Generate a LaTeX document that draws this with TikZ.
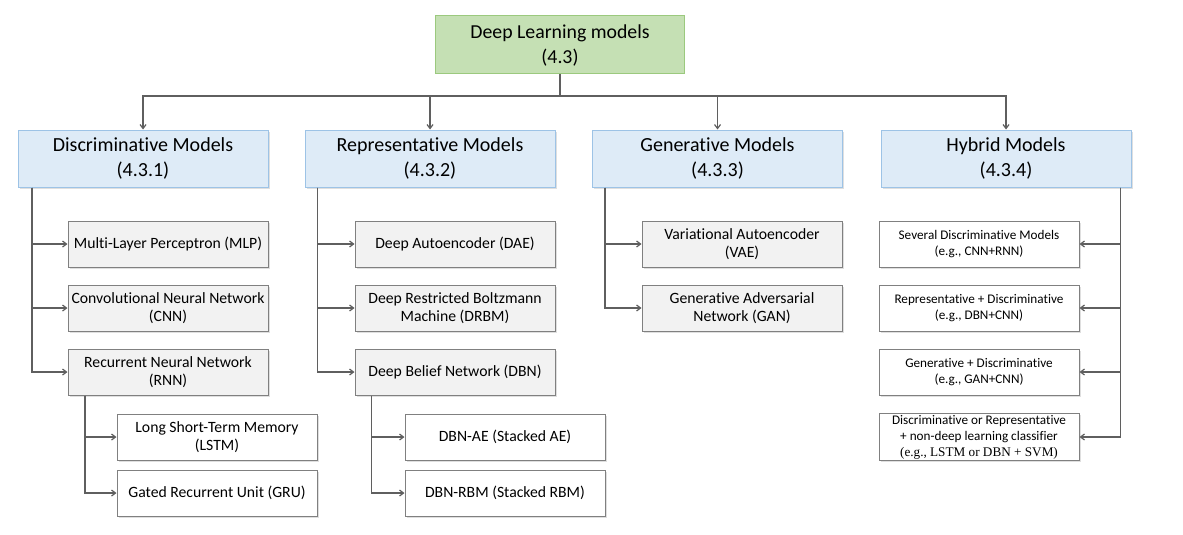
\documentclass[tikz,border=0pt]{standalone}
\usepackage{fontspec}
\setmainfont[Ligatures=NoCommon]{Carlito}
\newfontfamily\timesfont{Liberation Serif}
\usepackage{xcolor}
\usepackage{tikz}
\usetikzlibrary{arrows.meta, positioning, shadows}

\definecolor{topgreen}{HTML}{C5E0B4}
\definecolor{topedge}{HTML}{9BC97E}
\definecolor{catblue}{HTML}{DEEBF7}
\definecolor{catedge}{HTML}{9DC3E6}
\definecolor{leafgray}{HTML}{F2F2F2}
\definecolor{leafedge}{HTML}{808080}
\definecolor{wire}{HTML}{5F5F5F}

\tikzset{
  boxshade/.style={drop shadow={shadow xshift=1.5pt, shadow yshift=-1.5pt, opacity=0.25}},
  rootbox/.style={draw=topedge, fill=topgreen, line width=1pt, minimum width=249pt,
    minimum height=58pt, align=center, font=\fontsize{19.8}{25}\selectfont},
  catbox/.style={draw=catedge, fill=catblue, line width=1pt, boxshade, minimum width=250pt,
    minimum height=57pt, align=center, font=\fontsize{20}{25.5}\selectfont},
  leafbox/.style={draw=leafedge, fill=leafgray, line width=1pt, boxshade, minimum width=200pt,
    minimum height=46pt, inner sep=2pt, align=center, font=\fontsize{15.7}{18.7}\selectfont},
  subbox/.style={leafbox, fill=white},
  hybbox/.style={leafbox, fill=white, font=\fontsize{13.2}{16}\selectfont},
  wirearrow/.style={draw=wire, line width=1.2pt, ->}
}

\begin{document}
\begin{tikzpicture}[x=1pt, y=-1pt, >={Straight Barb[length=4pt, width=6pt]}]
  \useasboundingbox (0,0) rectangle (1183,535);

  % top level
  \node[rootbox] (dl) at (560,45) {Deep Learning models\\(4.3)};
  \coordinate (bus) at (560,96);

  % model families
  \node[catbox] (disc) at (143,158.5) {Discriminative Models\\(4.3.1)};
  \node[catbox] (rep) at (430,158.5) {Representative Models\\(4.3.2)};
  \node[catbox] (gen) at (717.5,158.5) {Generative Models\\(4.3.3)};
  \node[catbox] (hyb) at (1006,158.5) {Hybrid Models\\(4.3.4)};

  % discriminative
  \node[leafbox] (mlp) at (168,244) {Multi-Layer Perceptron (MLP)};
  \node[leafbox] (cnn) at (168,308) {Convolutional Neural Network\\(CNN)};
  \node[leafbox] (rnn) at (168,372) {Recurrent Neural Network\\(RNN)};
  \node[subbox] (lstm) at (217,437) {Long Short-Term Memory\\(LSTM)};
  \node[subbox] (gru) at (217,493) {Gated Recurrent Unit (GRU)};

  % representative
  \node[leafbox] (dae) at (455,244) {Deep Autoencoder (DAE)};
  \node[leafbox] (drbm) at (455,308) {Deep Restricted Boltzmann\\Machine (DRBM)};
  \node[leafbox] (dbn) at (455,372) {Deep Belief Network (DBN)};
  \node[subbox] (dbnae) at (505,437) {DBN-AE (Stacked AE)};
  \node[subbox] (dbnrbm) at (505,493) {DBN-RBM (Stacked RBM)};

  % generative
  \node[leafbox] (vae) at (742,244) {Variational Autoencoder\\(VAE)};
  \node[leafbox] (gan) at (742,308) {Generative Adversarial\\Network (GAN)};

  % hybrid
  \node[hybbox] (hone) at (979,244) {Several Discriminative Models\\(e.g., CNN+RNN)};
  \node[hybbox] (htwo) at (979,308) {Representative + Discriminative\\(e.g., DBN+CNN)};
  \node[hybbox] (hthree) at (979,372) {Generative + Discriminative\\(e.g., GAN+CNN)};
  \node[hybbox] (hfour) at (979,437) {Discriminative or Representative\\+ non-deep learning classifier\\{\timesfont (e.g., LSTM or DBN + SVM)}};

  % connectors
  \draw[draw=wire, line width=1.2pt] (dl.south) -- (bus);
  \foreach \fam in {disc, rep, gen, hyb}
    \draw[wirearrow] (bus) -| (\fam.north);

  \foreach \leaf in {mlp, cnn, rnn}
    \draw[wirearrow] ([xshift=14.5pt]disc.south west) |- (\leaf.west);
  \foreach \leaf in {lstm, gru}
    \draw[wirearrow] ([xshift=17.5pt]rnn.south west) |- (\leaf.west);
  \foreach \leaf in {dae, drbm, dbn}
    \draw[wirearrow] ([xshift=13pt]rep.south west) |- (\leaf.west);
  \foreach \leaf in {dbnae, dbnrbm}
    \draw[wirearrow] ([xshift=17pt]dbn.south west) |- (\leaf.west);
  \foreach \leaf in {vae, gan}
    \draw[wirearrow] ([xshift=13pt]gen.south west) |- (\leaf.west);
  \foreach \leaf in {hone, htwo, hthree, hfour}
    \draw[wirearrow] ([xshift=-11pt]hyb.south east) |- (\leaf.east);
\end{tikzpicture}
\end{document}
